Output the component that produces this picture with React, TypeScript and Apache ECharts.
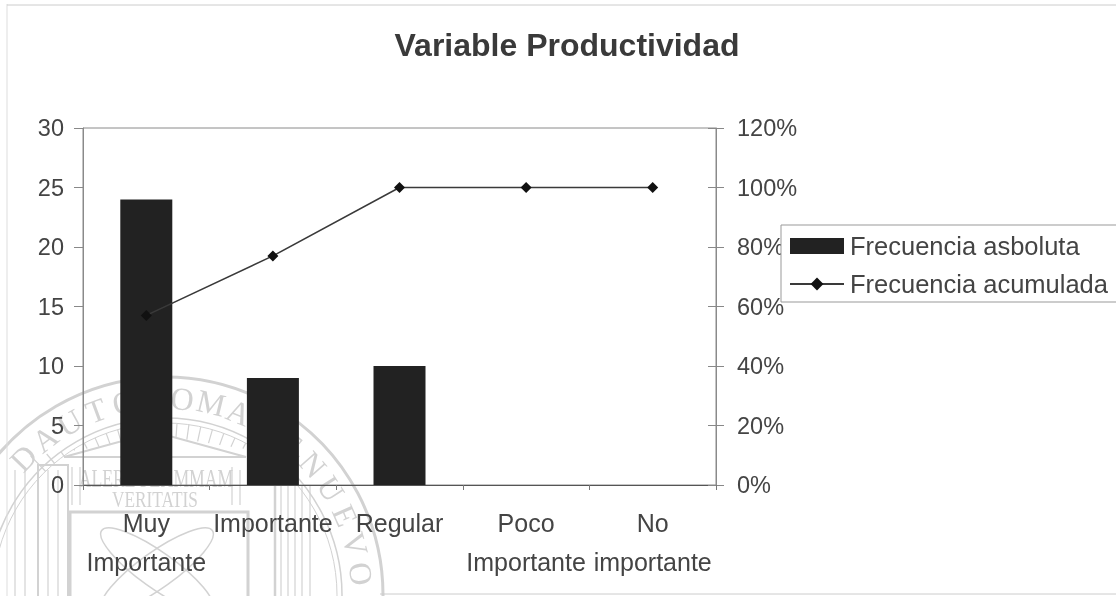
import React, { useEffect, useRef } from "react";
import * as echarts from "echarts";

const categories = ["Muy\nImportante", "Importante", "Regular", "Poco\nImportante", "No\nimportante"];
const absoluta = [24, 9, 10, 0, 0];
const acumulada = [57, 77, 100, 100, 100];
const leftTicks = { min: 0, max: 30, interval: 5 };
const rightTicks = { min: 0, max: 120, interval: 20 };
const FONT = '"Liberation Sans", Arial, sans-serif';
const SERIF = '"Liberation Serif", serif';
const INK = "#444444";
const SEAL = "#d2d2d2";

function sealGraphics(): any[] {
  const cx = 165, cy = 595;
  const out: any[] = [];
  const base = { z: -1, silent: true };
  const ring = (r: number, w: number) => ({
    ...base, type: "circle", shape: { cx, cy, r },
    style: { fill: "none", stroke: SEAL, lineWidth: w },
  });
  out.push(ring(218, 3), ring(177, 1.5), ring(172, 1));
  const rectLine = (x: number, y: number, w: number, h: number, lw: number) => ({
    ...base, type: "rect", shape: { x, y, width: w, height: h },
    style: { fill: "none", stroke: SEAL, lineWidth: lw },
  });
  out.push(rectLine(70, 512, 178, 90, 3), rectLine(38, 465, 30, 140, 2));
  out.push({
    ...base, type: "polyline", shape: { points: [[64, 457], [155, 432], [246, 457]] },
    style: { fill: "none", stroke: SEAL, lineWidth: 2 },
  });
  out.push({
    ...base, type: "line", shape: { x1: 64, y1: 457, x2: 246, y2: 457 },
    style: { stroke: SEAL, lineWidth: 2 },
  });
  for (let deg = -44; deg <= 44; deg += 4) {
    const rad = (deg * Math.PI) / 180;
    const y2 = 436 + Math.abs(deg) * 0.45;
    const r2 = (cy - y2) / Math.cos(rad);
    out.push({
      ...base, type: "line",
      shape: {
        x1: cx + 172 * Math.sin(rad), y1: cy - 172 * Math.cos(rad),
        x2: cx + r2 * Math.sin(rad), y2,
      },
      style: { stroke: SEAL, lineWidth: 1.2 },
    });
  }
  for (const x of [15, 25, 48, 58, 72, 80, 232, 240, 275, 281, 288, 295, 302, 310]) {
    out.push({
      ...base, type: "line",
      shape: { x1: x, y1: x > 270 ? 485 : x > 60 && x < 240 ? 467 : 470, x2: x, y2: x > 60 && x < 270 ? 505 : 596 },
      style: { stroke: SEAL, lineWidth: x === 275 ? 2.5 : 1.2 },
    });
  }
  for (const rotation of [0.62, -0.62]) {
    out.push({
      ...base, type: "ellipse", x: 157, y: 570, rotation,
      shape: { cx: 0, cy: 0, rx: 68, ry: 18 },
      style: { fill: "none", stroke: SEAL, lineWidth: 1.5 },
    });
  }
  const arcText = (s: string, startDeg: number, stepDeg: number, r: number) =>
    Array.from(s).forEach((ch, i) => {
      const rad = ((startDeg + i * stepDeg) * Math.PI) / 180;
      out.push({
        ...base, type: "text",
        x: cx + r * Math.sin(rad), y: cy - r * Math.cos(rad), rotation: -rad,
        style: { text: ch, font: `32px ${SERIF}`, fill: SEAL, align: "center", verticalAlign: "middle" },
      });
    });
  arcText("DAUTONOMA", -46, 8.5, 197);
  arcText("DENUEVO", 31, 8.8, 197);
  out.push({
    ...base, type: "text", x: 156, y: 478, scaleX: 0.68,
    style: { text: "ALERE FLAMMAM", font: `26px ${SERIF}`, fill: SEAL, align: "center", verticalAlign: "middle" },
  });
  out.push({
    ...base, type: "text", x: 155, y: 499, scaleX: 0.72,
    style: { text: "VERITATIS", font: `24px ${SERIF}`, fill: SEAL, align: "center", verticalAlign: "middle" },
  });
  return out;
}

export default function App() {
  const ref = useRef<HTMLDivElement>(null);
  useEffect(() => {
    const chart = echarts.init(ref.current!, null, { renderer: "svg" });
    const axisLine = { show: true, lineStyle: { color: "#8a8a8a", width: 1 } };
    const tickLabel = { fontFamily: FONT, fontSize: 23.5, color: INK };
    chart.setOption({
      animation: false,
      backgroundColor: "#fff",
      title: {
        text: "Variable Productividad", left: 562, top: 24, textAlign: "center",
        textStyle: { fontFamily: FONT, fontSize: 32, fontWeight: "bold", color: "#3a3a3a" },
      },
      grid: { left: 83, right: 400, top: 128, bottom: 111, show: true, borderColor: "#8a8a8a", borderWidth: 1 },
      xAxis: {
        type: "category", data: categories,
        axisLine: { show: true, lineStyle: { color: "#555", width: 1 } },
        axisTick: { show: true, alignWithLabel: false, length: 5, lineStyle: { color: "#777" } },
        axisLabel: { ...tickLabel, interval: 0, margin: 18, fontSize: 25, lineHeight: 39 },
      },
      yAxis: [
        {
          type: "value", ...leftTicks, position: "left",
          axisLine, axisTick: { show: true, length: 9, lineStyle: { color: "#888" } },
          splitLine: { show: false },
          axisLabel: { ...tickLabel, margin: 19 },
        },
        {
          type: "value", ...rightTicks, position: "right",
          axisLine, axisTick: { show: true, length: 8, lineStyle: { color: "#888" } },
          splitLine: { show: false },
          axisLabel: { ...tickLabel, margin: 21, formatter: "{value}%" },
        },
        {
          type: "value", ...rightTicks, position: "right",
          axisLine: { show: false }, axisTick: { show: true, inside: true, length: 8, lineStyle: { color: "#888" } },
          splitLine: { show: false }, axisLabel: { show: false },
        },
      ],
      legend: {
        orient: "vertical", left: 789, top: 233, padding: 0, itemGap: 12, itemWidth: 54, itemHeight: 16, z: 6,
        textStyle: { fontFamily: FONT, fontSize: 25.5, color: INK, padding: [0, 0, 0, 1] },
        data: [{ name: "Frecuencia asboluta", icon: "rect" }, { name: "Frecuencia acumulada" }],
      },
      graphic: [
        ...sealGraphics(),
        {
          type: "rect", z: 5, silent: true,
          shape: { x: 781, y: 225, width: 340, height: 77 },
          style: { fill: "#fff", stroke: "#999", lineWidth: 1 },
        },
        { type: "line", z: 5, silent: true, shape: { x1: 7, y1: 4, x2: 7, y2: 596 }, style: { stroke: "#ddd", lineWidth: 1 } },
        { type: "line", z: 5, silent: true, shape: { x1: 7, y1: 5, x2: 1116, y2: 5 }, style: { stroke: "#ccc", lineWidth: 1 } },
        { type: "line", z: 5, silent: true, shape: { x1: 380, y1: 594, x2: 1116, y2: 594 }, style: { stroke: "#ccc", lineWidth: 1 } },
      ],
      series: [
        {
          name: "Frecuencia asboluta", type: "bar", data: absoluta, yAxisIndex: 0,
          barWidth: 52, itemStyle: { color: "#222222" },
        },
        {
          name: "Frecuencia acumulada", type: "line", data: acumulada, yAxisIndex: 1,
          symbol: "diamond", symbolSize: 11, z: 4,
          lineStyle: { color: "#3a3a3a", width: 1.5 }, itemStyle: { color: "#111" },
        },
      ],
    });
    return () => chart.dispose();
  }, []);
  return <div ref={ref} style={{ position: "fixed", left: 0, top: 0, width: 1116, height: 596, filter: "blur(0.6px)" }} />;
}
